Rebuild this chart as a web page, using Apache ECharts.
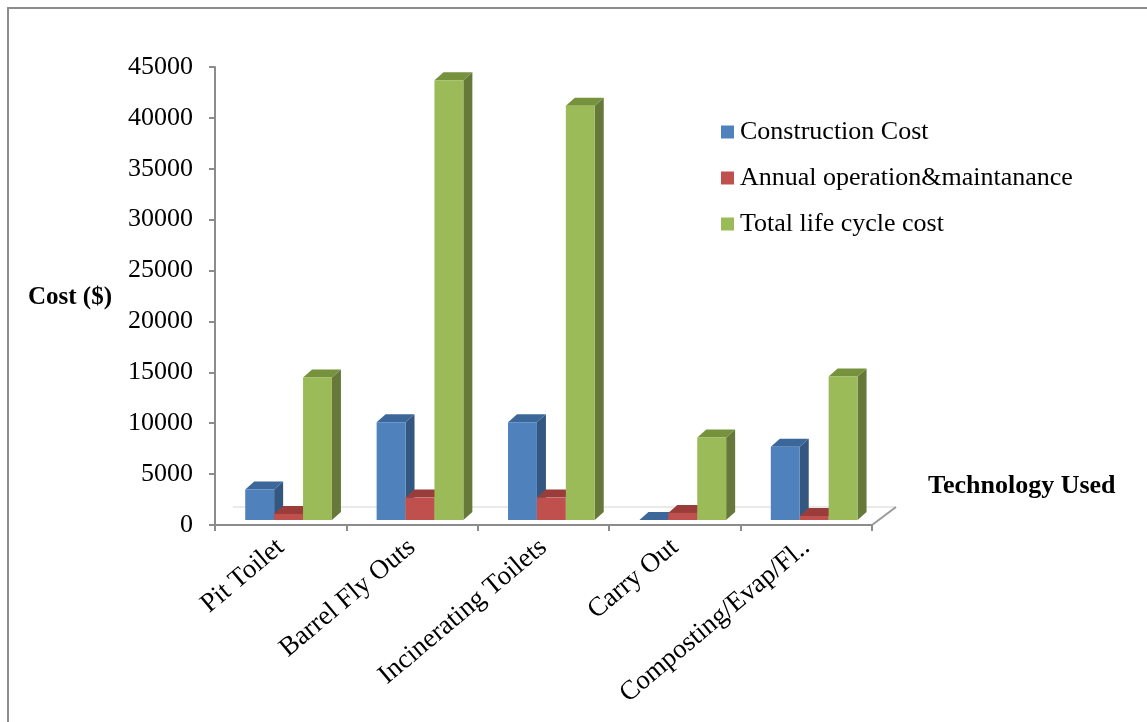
<!DOCTYPE html>
<html lang="en">
<head>
<meta charset="UTF-8">
<title>Cost by technology</title>
<script src="https://cdn.jsdelivr.net/npm/echarts@6/dist/echarts.min.js"></script>
<style>
    html, body { margin: 0; padding: 0; background: #fff; }
    #main { width: 1147px; height: 722px; }
</style>
</head>
<body>
<div id="main"></div>
<script>
// data
var categories = ['Pit Toilet', 'Barrel Fly Outs', 'Incinerating Toilets', 'Carry Out', 'Composting/Evap/Fl..'];
var seriesNames = ['Construction Cost', 'Annual operation&maintanance', 'Total life cycle cost'];
var construction = [3000, 9600, 9600, 0, 7200];
var annualOM = [600, 2200, 2200, 700, 400];
var lifeCycle = [14000, 43200, 40700, 8100, 14100];
var yMin = 0, yMax = 45000, yStep = 5000;

// front / side / top shades, excel 2007 look
var palette = [
    { front: '#4F81BD', side: '#34577F', top: '#3C679B' },
    { front: '#C0504D', side: '#8C3734', top: '#9A3D3A' },
    { front: '#9BBB59', side: '#67793A', top: '#76923C' }
];
var serif = '"Liberation Serif", "Times New Roman", serif';

function toPairs(arr) {
    return arr.map(function (v, i) { return [i, v]; });
}

function bar3d(idx) {
    return function (params, api) {
        var cat = api.value(0), val = api.value(1);
        var base = api.coord([cat, 0]);
        var top = api.coord([cat, val]);
        var band = api.size([1, 0])[0];
        var w = band * 0.22;
        var x0 = base[0] + (-0.27 + 0.22 * idx) * band;
        var x1 = x0 + w;
        var yb = base[1] - 5, yt = top[1] - 5;
        var dx = 9, dy = 8;
        var c = palette[idx];
        return {
            type: 'group',
            children: [
                { type: 'polygon', shape: { points: [[x1, yb], [x1, yt], [x1 + dx, yt - dy], [x1 + dx, yb - dy]] }, style: { fill: c.side } },
                { type: 'polygon', shape: { points: [[x0, yt], [x1, yt], [x1 + dx, yt - dy], [x0 + dx, yt - dy]] }, style: { fill: c.top } },
                { type: 'rect', shape: { x: x0, y: yt, width: w, height: yb - yt }, style: { fill: c.front } }
            ]
        };
    };
}

// floor back edge + right edge
function floor(params, api) {
    var cs = params.coordSys;
    var left = cs.x, right = cs.x + cs.width, bottom = cs.y + cs.height;
    return {
        type: 'group',
        children: [
            { type: 'line', shape: { x1: left + 18, y1: bottom - 18, x2: right + 24, y2: bottom - 18 }, style: { stroke: '#D4D4D4', lineWidth: 1 } },
            { type: 'line', shape: { x1: right, y1: bottom, x2: right + 24, y2: bottom - 18 }, style: { stroke: '#9A9A9A', lineWidth: 2 } }
        ]
    };
}

var chart = echarts.init(document.getElementById('main'));
var axisLineStyle = { color: '#8C8C8C', width: 2 };

var option = {
    animation: false,
    grid: { left: 215, top: 67, width: 657, height: 458 },
    legend: {
        orient: 'vertical',
        left: 721,
        top: 119,
        padding: 0,
        itemWidth: 13,
        itemHeight: 13,
        itemGap: 20,
        icon: 'rect',
        data: seriesNames,
        textStyle: { fontFamily: serif, fontSize: 26, color: '#000', padding: [0, 0, 0, 1] }
    },
    xAxis: {
        type: 'category',
        data: categories,
        boundaryGap: true,
        axisLine: { lineStyle: axisLineStyle },
        axisTick: { show: true, length: 6, lineStyle: axisLineStyle },
        axisLabel: { interval: 0, rotate: 40, margin: 19, fontFamily: serif, fontSize: 27, color: '#000' }
    },
    yAxis: {
        type: 'value',
        min: yMin,
        max: yMax,
        interval: yStep,
        splitLine: { show: false },
        axisLine: { show: true, lineStyle: axisLineStyle },
        axisTick: { show: true, length: 6, lineStyle: axisLineStyle },
        axisLabel: {
            margin: 22, fontFamily: serif, fontSize: 26, color: '#000',
            formatter: function (v) { return String(v); }
        }
    },
    graphic: [
        { type: 'rect', shape: { x: 8, y: 8, width: 1180, height: 760 }, style: { fill: null, stroke: '#8C8C8C', lineWidth: 2 }, z: -10 },
        { type: 'text', left: 28, top: 285, style: { text: 'Cost ($)', font: 'bold 25px ' + serif, fill: '#000' } },
        { type: 'text', left: 928, top: 473, style: { text: 'Technology Used', font: 'bold 26px ' + serif, fill: '#000' } }
    ],
    series: [
        { type: 'custom', name: 'floor', renderItem: floor, data: [[0, 0]], silent: true, z: 1 },
        { type: 'custom', name: seriesNames[0], renderItem: bar3d(0), itemStyle: { color: palette[0].front }, encode: { x: 0, y: 1 }, data: toPairs(construction), z: 2 },
        { type: 'custom', name: seriesNames[1], renderItem: bar3d(1), itemStyle: { color: palette[1].front }, encode: { x: 0, y: 1 }, data: toPairs(annualOM), z: 3 },
        { type: 'custom', name: seriesNames[2], renderItem: bar3d(2), itemStyle: { color: palette[2].front }, encode: { x: 0, y: 1 }, data: toPairs(lifeCycle), z: 4 }
    ]
};
chart.setOption(option);
</script>
</body>
</html>
